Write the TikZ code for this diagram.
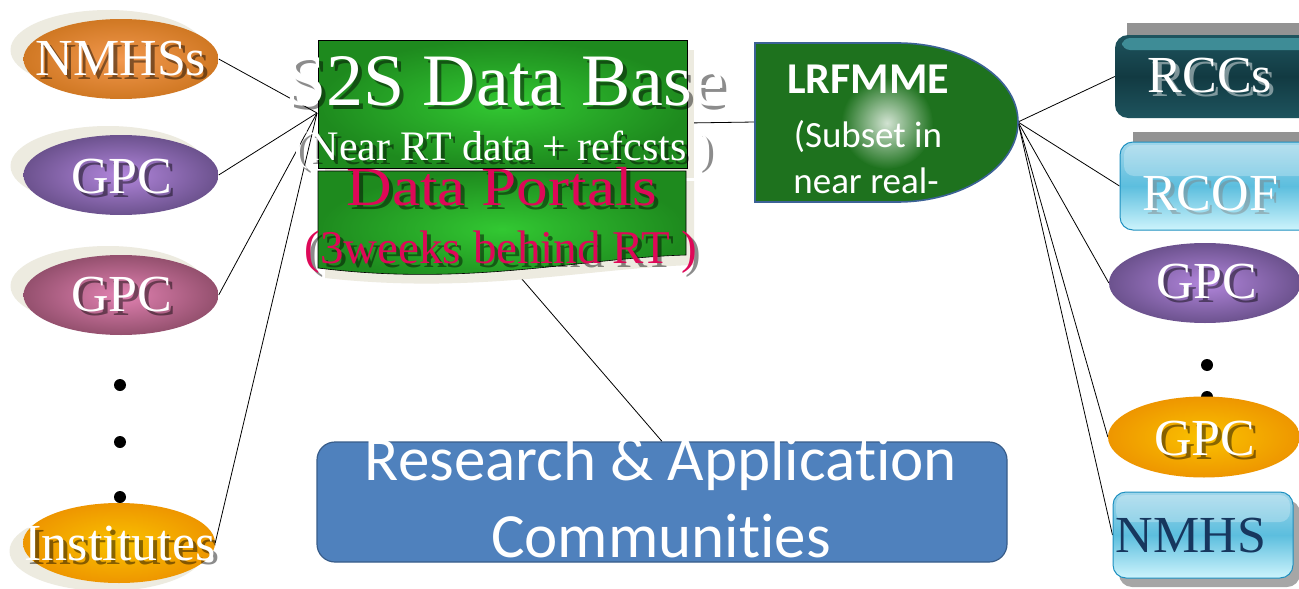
\documentclass[tikz,border=0pt]{standalone}
\usepackage{fontspec}
\setmainfont{Liberation Serif}
\newfontfamily\calfont[Ligatures=NoCommon]{Carlito}
\usetikzlibrary{shapes.geometric,backgrounds,calc}
\definecolor{beige}{RGB}{237,235,224}
\definecolor{orA}{RGB}{242,152,78}\definecolor{orB}{RGB}{208,120,35}
\definecolor{puA}{RGB}{178,134,220}\definecolor{puB}{RGB}{108,82,142}
\definecolor{piA}{RGB}{226,130,178}\definecolor{piB}{RGB}{148,80,110}
\definecolor{yeA}{RGB}{250,194,0}\definecolor{yeB}{RGB}{238,150,0}
\definecolor{grA}{RGB}{50,200,50}\definecolor{grB}{RGB}{30,138,30}
\definecolor{lrfg}{RGB}{30,114,30}\definecolor{lrfb}{RGB}{60,98,150}
\definecolor{crim}{RGB}{222,8,88}
\definecolor{tealA}{RGB}{62,140,150}\definecolor{tealB}{RGB}{18,58,66}\definecolor{tealC}{RGB}{30,84,94}
\definecolor{ltA}{RGB}{160,214,234}\definecolor{ltB}{RGB}{92,190,222}\definecolor{ltC}{RGB}{205,244,252}\definecolor{ltD}{RGB}{30,144,192}
\definecolor{navy}{RGB}{23,55,94}
\definecolor{rab}{RGB}{79,129,189}\definecolor{rabd}{RGB}{56,93,138}
\newcommand\shtxt[5]{%
  \node[#3,text=#4,opacity=.45] (#1sh) at ($#2+(4,4)$) {#5};
  \node[#3] (#1) at #2 {#5};}
\tikzset{
  conn/.style={draw=black, line width=0.8pt},
  oval/.style={ellipse, inner sep=0, minimum width=195, minimum height=80, shading=radial},
  beigeoval/.style={ellipse, inner sep=0, minimum width=195, minimum height=80, fill=beige},
  serifw/.style={anchor=base, inner sep=0, text=white, font=\fontsize{52}{60}\selectfont},
  calw/.style={anchor=base, inner sep=0, text=white, font=\calfont\fontsize{37}{44}\selectfont},
  glossbox/.style={rectangle, rounded corners=13, inner sep=0},
}
\begin{document}
\begin{tikzpicture}[x=1pt,y=-1pt]
\useasboundingbox (0,0) rectangle (1299,589);
% ---------- left sources ----------
\node[beigeoval] (bNMHSs) at (108,50) {};
\node[beigeoval] (bGPC1) at (108,166) {};
\node[beigeoval] (bGPC2) at (108,286) {};
\node[beigeoval] (bInst) at (107,551) {};
\node[oval, inner color=orA, outer color=orB] (nmhss) at (121,59) {};
\node[oval, inner color=puA, outer color=puB] (gpcA) at (121,175) {};
\node[oval, inner color=piA, outer color=piB] (gpcB) at (121,295) {};
\fill (120,385) circle (6) (120,442) circle (6) (120,497) circle (6);
\node[oval, inner color=yeA, outer color=yeB, minimum width=192] (inst) at (119,543) {};
\shtxt{tNMHSs}{(121,75)}{serifw}{black}{NMHSs}
\shtxt{tGPCa}{(122,193)}{serifw}{black}{GPC}
\shtxt{tGPCb}{(122,311)}{serifw}{black}{GPC}
\shtxt{tInst}{(120,560)}{serifw}{black}{Institutes}
% ---------- S2S data base ----------
\fill[beige] (325,50) rectangle (694,178);
\fill[beige] (325,181) -- (694,181) -- (694,265) .. controls (588,268) and (477,295) .. (325,278) -- cycle;
\node[rectangle, minimum width=369, minimum height=128, inner sep=0, shading=radial, inner color=grA, outer color=grB, draw=black, line width=0.6pt] (s2s) at (502.5,104) {};
\shade[inner color=grA, outer color=grB, draw=black, line width=0.6pt] (318,171) -- (686,171) -- (686,255) .. controls (580,258) and (470,287) .. (318,268) -- cycle;
\coordinate (dpbot) at (515,271);
\shtxt{tS2S}{(505,105)}{serifw, font=\fontsize{74}{80}\selectfont}{black}{S2S Data Base}
\shtxt{tNear}{(503,160)}{serifw, font=\fontsize{42}{48}\selectfont}{black}{(Near RT data + refcsts )}
\shtxt{tPort}{(502,205)}{serifw, text=crim, font=\fontsize{55}{60}\selectfont}{black}{\scalebox{1.15}[1]{Data Portals}}
\shtxt{tWeeks}{(501,263)}{serifw, text=crim, font=\fontsize{47}{52}\selectfont}{black}{(3weeks behind RT )}
% ---------- LRFMME ----------
\path[fill=lrfg, draw=lrfb, line width=1.6pt] (755,43) -- (897,43) .. controls (964,43) and (1018,78) .. (1018,122) .. controls (1018,166) and (964,202) .. (897,202) -- (755,202) -- cycle;
\shade[inner color=white!80!lrfg, outer color=lrfg] (887,123) circle (46);
\coordinate (lrfL) at (755,122);
\coordinate (lrftip) at (1018,122);
\coordinate (s2sR) at (687,123);
\node[anchor=base, inner sep=0, text=white, font=\calfont\bfseries\fontsize{44}{50}\selectfont] (tLRF) at (868,93) {LRFMME};
\node[calw] (tSub) at (868,147) {(Subset in};
\node[calw] (tReal) at (866,193) {near real-};
% ---------- right targets ----------
\fill[gray!85] (1127,23) rectangle (1310,100);
\node[glossbox, minimum width=200, minimum height=83, top color=tealC, bottom color=tealC, middle color=tealB] (rccs) at (1215,76.5) {};
\fill[tealA, rounded corners=8] (1122,38) rectangle (1308,50);
\shtxt{tRCCs}{(1210,92)}{serifw}{white}{RCCs}
\fill[gray!85] (1133,132) rectangle (1310,210);
\node[glossbox, minimum width=195, minimum height=88, top color=ltA, bottom color=ltC, middle color=ltB, draw=ltD, line width=1pt] (rcof) at (1217.5,186) {};
\fill[white, opacity=.25, rounded corners=10] (1124,145) rectangle (1310,176);
\shtxt{tRCOF}{(1210,210)}{serifw}{gray}{RCOF}
\node[oval, minimum width=192, inner color=puA, outer color=puB] (gpcC) at (1205,283) {};
\shtxt{tGPCc}{(1207,298)}{serifw}{black}{GPC}
\fill (1207,365) circle (6) (1207,397) circle (6);
\node[oval, minimum width=192, minimum height=81, inner color=yeA, outer color=yeB] (gpcD) at (1204,437) {};
\shtxt{tGPCd}{(1205,455)}{serifw}{black}{GPC}
\fill[black, opacity=.35, rounded corners=13] (1119,500) rectangle (1300,587);
\node[glossbox, minimum width=180, minimum height=86, top color=ltA, bottom color=ltC, middle color=ltB, draw=ltD, line width=1pt] (nmhs) at (1203,535) {};
\fill[white, opacity=.25, rounded corners=10] (1116,495) rectangle (1290,522);
\node[serifw, text=navy] (tNMHS) at (1191,552) {NMHS};
% ---------- research box ----------
\node[rectangle, rounded corners=18, minimum width=690, minimum height=120, inner sep=0, fill=rab, draw=rabd, line width=1.2pt] (rac) at (662,502) {};
\node[anchor=base, inner sep=0, text=white, font=\calfont\fontsize{63}{70}\selectfont] (tRes) at (661,480) {Research \& Application};
\node[anchor=base, inner sep=0, text=white, font=\calfont\fontsize{63}{70}\selectfont] (tCom) at (661,557) {Communities};
% ---------- connectors ----------
\begin{scope}[on background layer]
  \fill[white] (0,0) rectangle (1299,589);
  \coordinate (hub) at (317,113);
  \draw[conn] (nmhss.east) -- (hub);
  \draw[conn] (gpcA.east) -- (hub);
  \draw[conn] (gpcB.east) -- (hub);
  \draw[conn] (inst.east) -- (hub);
  \draw[conn] (s2sR) -- (lrfL);
  \draw[conn] (dpbot) -- (rac.north);
  \draw[conn] (lrftip) -- (rccs.west);
  \draw[conn] (lrftip) -- (rcof.west);
  \draw[conn] (lrftip) -- (gpcC.west);
  \draw[conn] (lrftip) -- (gpcD.west);
  \draw[conn] (lrftip) -- (nmhs.west);
\end{scope}
\end{tikzpicture}
\end{document}
